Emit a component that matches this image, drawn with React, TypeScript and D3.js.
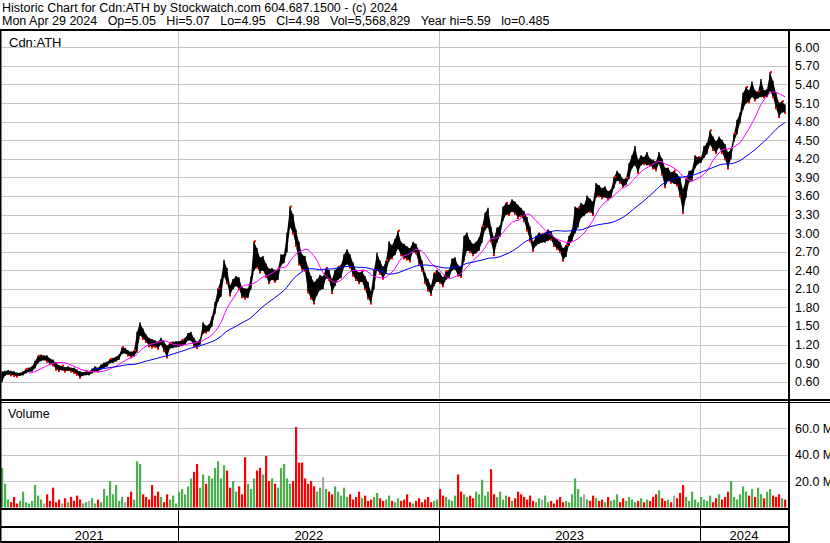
import React from "react";
import * as d3 from "d3";

const W = 830;
const H = 543;

const title = "Historic Chart for Cdn:ATH by Stockwatch.com 604.687.1500 - (c) 2024";
const quoteParts = ["Mon Apr 29 2024", "Op=5.05", "Hi=5.07", "Lo=4.95", "Cl=4.98", "Vol=5,568,829", "Year hi=5.59", "lo=0.485"];
const symbol = "Cdn:ATH";

const startDate = new Date(2021, 3, 29);
const endDate = new Date(2024, 3, 29);

const highs = [
  0.76,0.77,0.78,0.77,0.76,0.74,0.74,0.76,0.80,0.82,
  0.84,0.93,1.01,1.03,1.02,1.02,0.97,0.95,0.90,0.86,
  0.85,0.83,0.84,0.82,0.82,0.79,0.76,0.75,0.76,0.76,
  0.80,0.84,0.82,0.87,0.90,0.92,0.96,0.98,1.00,1.03,
  1.15,1.14,1.10,1.08,1.10,1.40,1.55,1.45,1.36,1.30,
  1.28,1.26,1.24,1.30,1.24,1.18,1.22,1.24,1.25,1.25,
  1.27,1.30,1.38,1.40,1.30,1.24,1.28,1.55,1.50,1.52,
  1.65,1.88,2.10,2.25,2.56,2.43,2.15,2.25,2.30,2.28,
  2.12,2.10,2.10,2.30,2.86,2.75,2.60,2.62,2.50,2.42,
  2.43,2.40,2.42,2.65,2.65,3.00,3.42,3.30,3.05,2.85,
  2.65,2.62,2.45,2.30,2.20,2.25,2.32,2.30,2.43,2.40,
  2.25,2.40,2.45,2.48,2.65,2.73,2.65,2.52,2.40,2.36,
  2.38,2.30,2.20,2.05,2.40,2.68,2.55,2.45,2.55,2.86,
  2.80,2.90,3.03,2.85,2.82,2.78,2.75,2.85,2.82,2.72,
  2.55,2.35,2.25,2.15,2.35,2.40,2.35,2.28,2.38,2.40,
  2.58,2.60,2.48,2.45,2.95,3.00,2.88,2.82,2.85,2.92,
  3.10,3.32,3.40,3.10,2.92,3.08,3.12,3.42,3.48,3.45,
  3.54,3.50,3.45,3.40,3.35,3.25,3.10,2.85,2.95,3.00,
  2.98,3.00,3.05,3.02,2.93,2.90,2.85,2.75,2.80,2.95,
  3.05,3.42,3.40,3.48,3.45,3.60,3.55,3.50,3.80,3.77,
  3.72,3.75,3.67,3.70,3.90,4.00,3.95,3.87,3.88,4.12,
  4.25,4.40,4.18,4.25,4.22,4.30,4.20,4.18,4.15,4.30,
  4.20,4.05,4.05,3.98,4.00,3.95,3.90,3.70,3.87,4.00,
  4.02,4.25,4.22,4.22,4.40,4.45,4.65,4.55,4.48,4.55,
  4.50,4.43,4.30,4.35,4.60,4.82,4.94,5.26,5.35,5.30,
  5.44,5.30,5.28,5.48,5.30,5.32,5.59,5.45,5.26,5.10,
  5.12,5.07
];

const lows = [
  0.60,0.70,0.72,0.71,0.70,0.69,0.70,0.71,0.74,0.76,
  0.77,0.82,0.90,0.94,0.95,0.93,0.89,0.87,0.80,0.78,
  0.79,0.77,0.78,0.77,0.75,0.72,0.67,0.70,0.71,0.71,
  0.74,0.76,0.77,0.80,0.82,0.85,0.90,0.91,0.93,0.96,
  1.05,1.06,1.03,1.00,1.02,1.08,1.35,1.30,1.25,1.18,
  1.16,1.17,1.14,1.20,1.10,1.00,1.14,1.15,1.16,1.17,
  1.18,1.20,1.27,1.26,1.18,1.15,1.20,1.38,1.40,1.42,
  1.50,1.70,1.90,1.98,2.30,2.20,2.00,2.10,2.15,2.10,
  1.97,1.95,1.96,2.10,2.40,2.45,2.37,2.40,2.30,2.20,
  2.25,2.22,2.25,2.48,2.52,2.70,3.10,3.00,2.80,2.50,
  2.42,2.40,2.05,1.95,1.87,2.00,2.08,2.10,2.27,2.25,
  2.04,2.15,2.25,2.28,2.45,2.50,2.45,2.32,2.25,2.20,
  2.22,2.10,1.95,1.87,2.10,2.40,2.35,2.27,2.35,2.55,
  2.60,2.65,2.75,2.65,2.60,2.58,2.55,2.70,2.68,2.50,
  2.40,2.20,2.08,2.01,2.15,2.22,2.20,2.15,2.25,2.28,
  2.40,2.42,2.32,2.30,2.55,2.72,2.70,2.65,2.68,2.72,
  2.85,3.05,3.10,2.87,2.65,2.85,2.95,3.20,3.30,3.30,
  3.35,3.32,3.25,3.28,3.20,3.05,2.88,2.72,2.80,2.83,
  2.85,2.85,2.88,2.90,2.80,2.75,2.70,2.56,2.62,2.80,
  2.88,3.00,3.10,3.25,3.28,3.33,3.35,3.30,3.58,3.60,
  3.57,3.58,3.55,3.58,3.73,3.85,3.82,3.75,3.78,3.88,
  4.05,4.10,3.98,4.10,4.12,4.10,4.10,4.05,4.02,4.12,
  3.95,3.75,3.85,3.82,3.80,3.78,3.60,3.33,3.58,3.82,
  3.85,4.05,4.12,4.14,4.22,4.28,4.43,4.35,4.30,4.38,
  4.30,4.20,4.05,4.20,4.48,4.60,4.78,5.00,5.10,5.12,
  5.20,5.15,5.18,5.20,5.20,5.20,5.30,5.20,5.02,4.88,
  4.95,4.95
];

// volume in millions of shares
const volumes = [
  30,18,6,4,8,3,5,12,4,3,
  5,17,9,6,3,10,5,15,4,6,
  3,7,4,8,5,9,6,3,4,5,
  7,3,6,4,14,9,20,10,17,5,
  8,4,8,12,6,35,33,10,8,6,
  17,9,12,8,4,10,6,9,3,12,
  14,10,16,22,27,33,15,25,18,24,
  22,30,35,22,32,28,15,20,12,16,
  10,38,18,14,22,28,30,25,39,20,
  22,18,15,30,33,22,18,20,61,34,
  34,22,18,20,16,12,15,23,14,12,
  10,16,12,9,15,8,10,6,8,12,
  7,9,5,6,8,11,7,5,6,9,
  5,4,7,5,6,10,4,3,5,7,
  4,6,8,4,5,6,14,9,8,6,
  5,9,25,12,10,8,9,7,12,10,
  21,9,12,29,10,8,12,6,9,8,
  5,7,12,10,8,6,9,5,4,7,
  6,9,4,5,3,6,8,4,5,4,
  10,22,14,8,10,6,5,9,7,5,
  6,4,8,5,6,10,4,7,5,8,
  6,4,5,7,4,6,5,8,10,13,
  7,5,6,4,9,7,11,17,8,5,
  12,6,4,8,6,5,9,4,7,10,
  6,8,12,20,8,6,10,16,12,9,
  14,8,15,10,7,12,14,9,8,10,
  7,6
];

const priceTicks = [0.6,0.9,1.2,1.5,1.8,2.1,2.4,2.7,3.0,3.3,3.6,3.9,4.2,4.5,4.8,5.1,5.4,5.7,6.0];
const priceTickLabels = ["0.60","0.90","1.20","1.50","1.80","2.10","2.40","2.70","3.00","3.30","3.60","3.90","4.20","4.50","4.80","5.10","5.40","5.70","6.00"];
const volTicks = [20, 40, 60];
const volTickLabels = ["20.0 M", "40.0 M", "60.0 M"];
const yearLabels = ["2021", "2022", "2023", "2024"];
const yearStarts = [new Date(2022, 0, 1), new Date(2023, 0, 1), new Date(2024, 0, 1)];

const FONT = "'Liberation Sans', Arial, sans-serif";
const GRID = "#c4c4c4";
const GREEN = "#4caf50";
const RED = "#ff0000";
const GRAY = "#a8a8a8";
const NBSP2 = "\u00a0\u00a0";

export default function App() {
  const N = Math.min(highs.length, lows.length);
  const t0 = startDate.getTime();
  const t1 = endDate.getTime();
  const dates = d3.range(N).map((i) => new Date(t0 + ((t1 - t0) * i) / (N - 1)));
  const vN = volumes.length;
  const vDates = d3.range(vN).map((i) => new Date(t0 + ((t1 - t0) * i) / (vN - 1)));

  const plotRight = 788;
  const x = d3.scaleTime().domain([startDate, endDate]).range([2, 785]);
  const y = d3.scaleLinear().domain([0.6, 6.0]).range([381.7, 47.3]);
  const yv = d3.scaleLinear().domain([0, 60]).range([507.5, 428.3]);

  const mids = d3.range(N).map((i) => (highs[i] + lows[i]) / 2);
  const movingAvg = (n: number) =>
    mids.map((_, i) => (i < n - 1 ? null : (d3.mean(mids.slice(i - n + 1, i + 1)) as number)));
  const maShort = movingAvg(10);
  const maLong = movingAvg(31);

  const line = d3
    .line<number | null>()
    .defined((d) => d != null)
    .x((_, i) => x(dates[i]))
    .y((d) => y(d as number));

  const band = d3
    .area<number>()
    .x((_, i) => x(dates[i]))
    .y0((_, i) => y(lows[i]))
    .y1((d) => y(d));

  const boundaries = [0, ...yearStarts.map((d) => x(d)), plotRight];

  const volColor = (i: number) => {
    const mi = Math.min(i, N - 1);
    if (mi === 0) return GREEN;
    const diff = mids[mi] - mids[mi - 1];
    if (Math.abs(diff) < 0.004) return GRAY;
    return diff > 0 ? GREEN : RED;
  };

  return (
    <svg
      width={W}
      height={H}
      viewBox={`0 0 ${W} ${H}`}
      style={{ position: "absolute", left: 0, top: 0, background: "#fff", display: "block" }}
      fontFamily={FONT}
    >
      <rect x={0} y={0} width={W} height={H} fill="#fff" />
      {/* header */}
      <text x={2} y={12} fontSize={12.5} fill="#000">
        {title}
      </text>
      <text x={2} y={25} fontSize={12.5} fill="#000">
        {quoteParts.join(NBSP2 + "\u00a0")}
      </text>

      {/* price grid */}
      {priceTicks.map((v, i) => (
        <line key={"pg" + i} x1={0} x2={plotRight} y1={Math.round(y(v)) + 0.5} y2={Math.round(y(v)) + 0.5} stroke={GRID} strokeWidth={1} />
      ))}
      {yearStarts.map((d, i) => (
        <line key={"vg" + i} x1={Math.round(x(d)) + 0.5} x2={Math.round(x(d)) + 0.5} y1={31} y2={400} stroke={GRID} strokeWidth={1} />
      ))}
      {priceTicks.map((v, i) => (
        <text key={"pl" + i} x={795} y={y(v) + 4.5} fontSize={12.5} fill="#000">
          {priceTickLabels[i]}
        </text>
      ))}
      <text x={9} y={47} fontSize={13} fill="#000">
        {symbol}
      </text>

      {/* price bars */}
      <path d={band(highs.slice(0, N)) || ""} fill="#000" />
      {d3.range(N).map((i) => (
        <line
          key={"b" + i}
          x1={x(dates[i])}
          x2={x(dates[i])}
          y1={y(lows[i]) + 0.5}
          y2={y(highs[i]) - 0.5}
          stroke="#000"
          strokeWidth={1.4}
        />
      ))}
      {d3.range(1, N).map((i) =>
        mids[i] < mids[i - 1] ? (
          <rect key={"rd" + i} x={x(dates[i]) - 1} y={y(lows[i]) - 0.5} width={2} height={2} fill={RED} />
        ) : i % 4 === 0 ? (
          <rect key={"ru" + i} x={x(dates[i])} y={y(highs[i]) - 1.5} width={2} height={2} fill={RED} />
        ) : null
      )}
      <path d={line(maShort) || ""} fill="none" stroke="#ff00ff" strokeWidth={1} />
      <path d={line(maLong) || ""} fill="none" stroke="#0000ff" strokeWidth={1} />

      {/* volume panel */}
      <text x={8} y={418} fontSize={12.5} fill="#000">
        Volume
      </text>
      {volTicks.map((v, i) => (
        <line key={"vgl" + i} x1={0} x2={plotRight} y1={Math.round(yv(v)) + 0.5} y2={Math.round(yv(v)) + 0.5} stroke={GRID} strokeWidth={1} />
      ))}
      {yearStarts.map((d, i) => (
        <line key={"vvg" + i} x1={Math.round(x(d)) + 0.5} x2={Math.round(x(d)) + 0.5} y1={403} y2={509} stroke={GRID} strokeWidth={1} />
      ))}
      {volTicks.map((v, i) => (
        <text key={"vl" + i} x={795} y={yv(v) + 4.5} fontSize={12.5} fill="#000">
          {volTickLabels[i]}
        </text>
      ))}
      {volumes.map((v, i) => (
        <rect
          key={"v" + i}
          x={x(vDates[i]) - 1}
          y={yv(v)}
          width={2.2}
          height={yv(0) - yv(v)}
          fill={volColor(i)}
        />
      ))}

      {/* x axis */}
      {yearStarts.map((d, i) => (
        <line key={"xt" + i} x1={Math.round(x(d)) + 0.5} x2={Math.round(x(d)) + 0.5} y1={510} y2={541} stroke="#000" strokeWidth={1} />
      ))}
      {yearLabels.map((lab, i) => (
        <text key={"yl" + i} x={(boundaries[i] + boundaries[i + 1]) / 2} y={540} fontSize={13} textAnchor="middle" fill="#000">
          {lab}
        </text>
      ))}

      {/* frame lines */}
      <rect x={0} y={29} width={W} height={2} fill="#000" />
      <rect x={0} y={399} width={W} height={2} fill="#000" />
      <rect x={0} y={402} width={W} height={1} fill="#000" />
      <rect x={0} y={508} width={790} height={2} fill="#000" />
      <rect x={0} y={526} width={790} height={2} fill="#000" />
      <rect x={0} y={541} width={790} height={2} fill="#000" />
      <rect x={0} y={29} width={1.5} height={H - 29} fill="#000" />
      <rect x={788} y={29} width={2} height={H - 29} fill="#000" />
    </svg>
  );
}
